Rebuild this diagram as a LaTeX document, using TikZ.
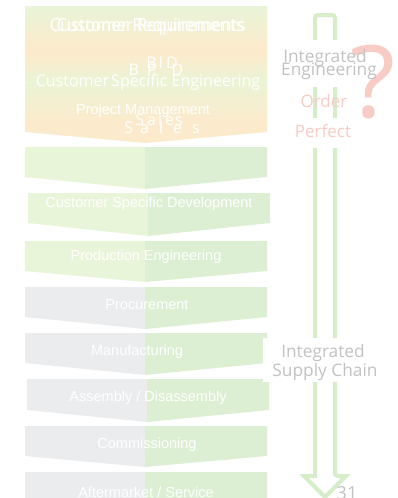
\documentclass[tikz,border=0pt]{standalone}
\usepackage{fontspec}
\setmainfont{Liberation Sans}
\newfontfamily\osans{Open Sans}
\definecolor{lgreen}{HTML}{E8F5D9}
\definecolor{rgreen}{HTML}{DCEFD2}
\definecolor{lgray}{HTML}{EBECEE}
\definecolor{peach}{HTML}{FBEBCC}
\definecolor{ygreen}{HTML}{EAF4D6}
\definecolor{argreen}{HTML}{D6EDCA}
\definecolor{tgray}{HTML}{C2C2C2}
\definecolor{tpink}{HTML}{F8CBC4}
\tikzset{
  x=1pt,y=-1pt,
  boxlabel/.style={text=white,font=\fontsize{14.5}{16}\selectfont,inner sep=0pt},
  toplabel/.style={text=white,font=\osans\fontsize{16}{18}\selectfont,inner sep=0pt},
  sidelabel/.style={text=tgray,font=\osans\fontsize{17.3}{18}\selectfont,inner sep=0pt},
  pinklabel/.style={text=tpink,font=\osans\fontsize{17}{18}\selectfont,inner sep=0pt},
  whitebg/.style={fill=white,draw=none,inner sep=0pt},
}
\newcommand{\chev}[3]{(25,#1) -- (267,#1) -- (267,#2) -- (145,#3) -- (25,#2) -- cycle}
\newcommand{\halfbox}[5]{%
  \begin{scope}
    \clip \chev{#1}{#2}{#3};
    \fill[#4] (20,#1) rectangle (145,#3+2);
    \fill[#5] (145,#1) rectangle (272,#3+2);
  \end{scope}}
\begin{document}
\begin{tikzpicture}
\useasboundingbox (0,0) rectangle (397,498);
\fill[white] (0,0) rectangle (397,498);
% top box with vertical gradient
\begin{scope}
  \clip \chev{6}{132}{143};
  \shade[top color=lgreen,bottom color=peach] (20,5) rectangle (272,45);
  \shade[top color=peach,bottom color=peach] (20,44) rectangle (272,56);
  \shade[top color=peach,bottom color=ygreen] (20,55) rectangle (272,82);
  \shade[top color=ygreen,bottom color=peach] (20,81) rectangle (272,120);
  \fill[peach] (20,119) rectangle (272,145);
\end{scope}
% chevron boxes
\halfbox{147}{177}{189}{lgreen}{rgreen}
\begin{scope}[xshift=3pt]\halfbox{193}{223}{236}{lgreen}{rgreen}\end{scope}
\halfbox{241}{271}{282}{lgreen}{rgreen}
\halfbox{287}{317}{329}{lgray}{rgreen}
\halfbox{333}{363}{375}{lgray}{rgreen}
\begin{scope}[xshift=2pt]\halfbox{379}{410}{422}{lgray}{rgreen}\end{scope}
\halfbox{426}{456}{467}{lgray}{rgreen}
\halfbox{472}{502}{514}{lgray}{rgreen}
% top box texts
\node[toplabel,font=\osans\fontsize{18}{20}\selectfont,xscale=0.95] (cr1) at (147,27) {Customer Requirements};
\node[toplabel,font=\osans\fontsize{18}{20}\selectfont,xscale=0.92] (cr2) at (151,27) {Customer Requirements};
\node[toplabel] (bid1) at (162,63) {B\hspace{2pt}I\hspace{3pt}D};
\node[toplabel] (bid2) at (156,70) {B\hspace{8pt}P\hspace{15pt}D};
\node[toplabel] (cse) at (148,82) {Customer\hspace{-2pt} Specific Engineering};
\node[boxlabel] (pm) at (143,111) {Project Management};
\node[toplabel] (sales1) at (159,119) {S\hspace{3pt}a\hspace{2pt}l\hspace{3pt}e\hspace{1pt}s};
\node[toplabel] (sales2) at (162,127) {S\hspace{7pt}a\hspace{10pt}l\hspace{10pt}e\hspace{10pt}s};
% box labels
\node[boxlabel] (csd) at (149,204) {Customer Specific Development};
\node[boxlabel] (pe) at (146,257) {Production Engineering};
\node[boxlabel] (proc) at (147,305) {Procurement};
\node[boxlabel] (manu) at (137,352) {Manufacturing};
\node[boxlabel] (asm) at (148,398) {Assembly / Disassembly};
\node[boxlabel] (comm) at (147,445) {Commissioning};
\node[boxlabel] (after) at (146,492) {Aftermarket / Service};
% right hollow arrow
\draw[argreen,line width=4pt,line join=miter,rounded corners=3pt]
  (315,476) -- (315,15) -- (335,15) -- (335,476) [sharp corners] -- (346,476) -- (325,497) -- (304,476) -- cycle;
% white backgrounds over the arrow
\node[whitebg,minimum width=48pt,minimum height=47pt] (wie) at (325,63.5) {};
\node[whitebg,minimum width=48pt,minimum height=30pt] (wpf) at (325,133) {};
\node[whitebg,minimum width=109pt,minimum height=44pt] (wsc) at (317.5,360) {};
% question mark
\node[text=tpink,font=\osans\fontsize{100}{100}\selectfont,inner sep=0pt,xscale=1.05] (qm) at (373,82) {?};
% side texts
\node[sidelabel] (ie1) at (325,58) {Integrated};
\node[sidelabel] (ie2) at (329,71) {Engineering};
\node[pinklabel] (ord) at (324,101) {Order};
\node[pinklabel] (perf) at (323,131) {Perfect};
\node[sidelabel] (isc1) at (323,353) {Integrated};
\node[sidelabel] (isc2) at (325,372) {Supply Chain};
\node[sidelabel,font=\osans\fontsize{18}{20}\selectfont] (pg) at (347,493) {31};
\end{tikzpicture}
\end{document}
